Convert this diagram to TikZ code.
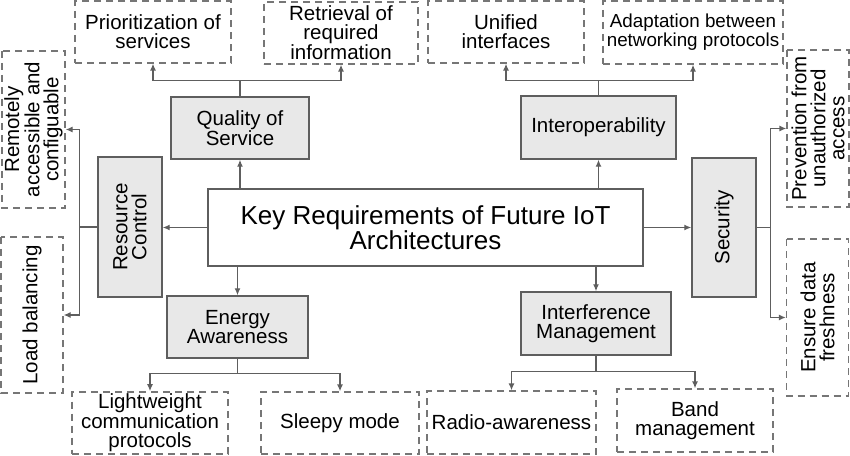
\documentclass[tikz,border=0pt]{standalone}
\usepackage{fontspec}
\setmainfont{Liberation Sans}
\usetikzlibrary{arrows.meta}
\definecolor{boxgray}{HTML}{E8E8E8}
\definecolor{linegray}{HTML}{5E5E5E}
\begin{document}
\begin{tikzpicture}[x=1pt,y=1pt,
	txt/.style={font=\fontsize{20.5}{19}\selectfont,align=center,inner sep=2pt},
	req/.style={txt,draw=linegray,fill=boxgray,line width=1.4pt},
	sub/.style={txt,draw=linegray!85,dash pattern=on 7pt off 5pt,line width=1.3pt},
	vert/.style={rotate=90},
	arr/.style={draw=linegray,line width=1.3pt,-{Latex[length=7pt,width=6pt]}}]
	\useasboundingbox (0,0) rectangle (850,455);
	\node[draw=linegray,line width=1.4pt,minimum width=435pt,minimum height=77pt,align=center,font=\fontsize{26}{24}\selectfont] (key) at (425.5,227.5) {Key Requirements of Future IoT\\Architectures};
	\node[req,minimum width=138pt,minimum height=62pt] (qos) at (240,327) {Quality of\\Service};
	\node[req,minimum width=155pt,minimum height=63pt] (interop) at (598.5,327.5) {Interoperability};
	\node[req,vert,minimum width=140pt,minimum height=64pt] (rescontrol) at (130,228) {Resource\\Control};
	\node[req,vert,minimum width=139pt,minimum height=64pt] (security) at (724,227.5) {Security};
	\node[req,minimum width=141pt,minimum height=62pt] (energy) at (237.5,128) {Energy\\Awareness};
	\node[req,minimum width=150pt,minimum height=63pt] (interf) at (596,131.5) {Interference\\Management};
	\node[sub,minimum width=156pt,minimum height=62pt] (prior) at (153,423) {Prioritization of\\services};
	\node[sub,minimum width=154pt,minimum height=62pt] (retrieval) at (341,422) {Retrieval of\\required\\information};
	\node[sub,minimum width=156pt,minimum height=62pt] (unified) at (506,423) {Unified\\interfaces};
	\node[sub,minimum width=180pt,minimum height=63pt,font=\fontsize{18.8}{19}\selectfont] (adapt) at (693,422.5) {Adaptation between\\networking protocols};
	\node[sub,vert,minimum width=157pt,minimum height=63pt] (remote) at (33.5,325.5) {Remotely\\accessible and\\configuable};
	\node[sub,vert,minimum width=156pt,minimum height=62pt] (loadbal) at (32,140) {Load balancing};
	\node[sub,vert,minimum width=157pt,minimum height=62pt] (prevent) at (818,326.5) {Prevention from\\unauthorized\\access};
	\node[sub,vert,minimum width=157pt,minimum height=62pt] (fresh) at (817.5,137.5) {Ensure data\\freshness};
	\node[sub,minimum width=156pt,minimum height=62pt] (light) at (150,32) {Lightweight\\communication\\protocols};
	\node[sub,minimum width=158pt,minimum height=62pt] (sleepy) at (340,32) {Sleepy mode};
	\node[sub,minimum width=169pt,minimum height=63pt] (radio) at (511.5,32.5) {Radio-awareness};
	\node[sub,minimum width=156pt,minimum height=63pt] (band) at (695,34.5) {Band\\management};
	\draw[arr] (key.north -| qos) -- (qos.south);
	\draw[arr] (key.north -| interop) -- (interop.south);
	\draw[arr] (key.south -| energy) -- (energy.north);
	\draw[arr] (key.south -| interf) -- (interf.north);
	\draw[arr] (key.west) -- (key.west -| rescontrol.south);
	\draw[arr] (key.east) -- (key.east -| security.north);
	\draw[arr] (qos.north) -- ++(0,16) -| (prior.south);
	\draw[arr] (qos.north) -- ++(0,16) -| (retrieval.south);
	\draw[arr] (interop.north) -- ++(0,15) -| (unified.south);
	\draw[arr] (interop.north) -- ++(0,15) -| (adapt.south);
	\draw[arr] (energy.south) -- ++(0,-15) -| (light.north);
	\draw[arr] (energy.south) -- ++(0,-15) -| (sleepy.north);
	\draw[arr] (interf.south) -- ++(0,-16) -| (radio.north);
	\draw[arr] (interf.south) -- ++(0,-16) -| (band.north);
	\draw[arr] (rescontrol.north) -- ++(-18,0) |- (remote.south);
	\draw[arr] (rescontrol.north) -- ++(-18,0) |- (loadbal.south);
	\draw[arr] (security.south) -- ++(14,0) |- (prevent.north);
	\draw[arr] (security.south) -- ++(14,0) |- (fresh.north);
\end{tikzpicture}
\end{document}
